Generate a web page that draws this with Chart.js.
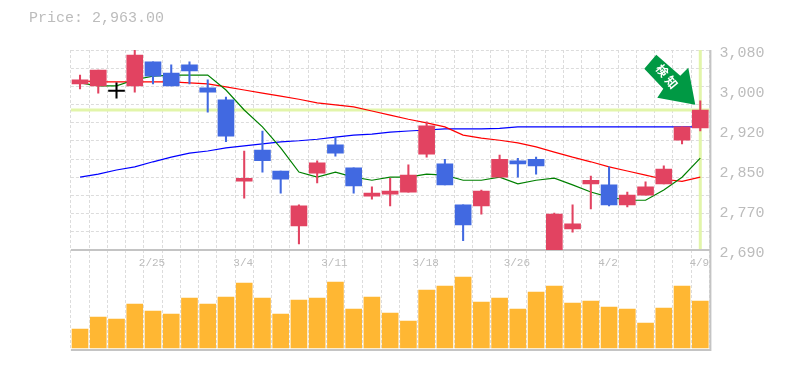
<!DOCTYPE html>
<html><head><meta charset="utf-8">
<style>html,body{margin:0;padding:0;background:#fff}
#t{position:absolute;left:29px;top:10px;font:15px "Liberation Mono",monospace;color:#bcbcbc;white-space:pre}
canvas{display:block}</style>
<script src="https://cdn.jsdelivr.net/npm/chart.js@4"></script></head>
<body><div id="t">Price: 2,963.00</div><canvas id="c" width="785" height="370"></canvas>
<script>
const dates=['2/19','2/20','2/21','2/22','2/25','2/26','2/27','2/28','3/1','3/4','3/5','3/6','3/7','3/8','3/11','3/12','3/13','3/14','3/15','3/18','3/19','3/20','3/22','3/25','3/26','3/27','3/28','3/29','4/1','4/2','4/3','4/4','4/5','4/8','4/9'];
const shownDates=['2/25','3/4','3/11','3/18','3/26','4/2','4/9'];
const open=[3014,3010,2999,3010,3057,3035,3051,3006,2983,2824,2885,2844,2737,2840,2895,2850,2795,2799,2803,2877,2858,2778,2776,2832,2864,2867,2686,2731,2819,2817,2778,2797,2819,2904,2928];
const close=[3022,3041,2999,3070,3029,3010,3039,2998,2912,2830,2864,2828,2776,2860,2879,2815,2801,2805,2836,2932,2817,2739,2805,2867,2858,2854,2760,2741,2826,2778,2797,2813,2848,2930,2963];
const high=[3031,3041,3016,3080,3057,3051,3057,3022,2988,2883,2922,2844,2778,2864,2910,2850,2813,2830,2856,2940,2867,2778,2807,2875,2869,2871,2762,2778,2834,2852,2803,2823,2854,2930,2981];
const low=[3004,2996,2986,2998,3014,3010,3014,2959,2901,2791,2842,2801,2702,2821,2873,2801,2789,2776,2803,2871,2817,2708,2760,2832,2832,2838,2686,2725,2770,2776,2774,2797,2819,2897,2922];
const maShort=[3016,3010,3010,3022,3029,3031,3031,3031,3002,2963,2930,2889,2842,2832,2842,2832,2826,2832,2832,2838,2836,2826,2826,2832,2819,2826,2830,2817,2803,2793,2787,2787,2807,2832,2869];
const maMid=[3020,3018,3018,3018,3018,3018,3016,3014,3008,3002,2996,2990,2984,2977,2973,2969,2961,2953,2945,2938,2930,2914,2908,2904,2899,2891,2881,2871,2862,2852,2844,2836,2828,2824,2832];
const maLong=[2832,2838,2846,2852,2862,2871,2879,2883,2889,2893,2897,2901,2903,2906,2910,2914,2916,2920,2922,2924,2926,2926,2926,2927,2930,2930,2930,2930,2930,2930,2930,2930,2930,2930,2930];
const volume=[570,930,870,1320,1110,1020,1500,1320,1530,1950,1500,1020,1440,1500,1980,1170,1530,1050,810,1740,1860,2130,1380,1500,1170,1680,1860,1350,1410,1230,1170,750,1200,1860,1410];
const priceLabelTicks=[3080,3002,2924,2846,2768,2690];
const priceLabels=['3,080','3,000','2,920','2,850','2,770','2,690'];
const priceGridTicks=[3080,3044.5,3009,2973.6,2938.2,2902.7,2867.3,2831.8,2796.4,2760.9,2725.5,2690];
const lastPrice=2963;
const signalText='検知';

const RED='#e24361',BLUE='#4169e1',GRID='#dcdcdc',AXIS='#c4c4c4',HL='#e2f5aa',TXT='#bcbcbc';
const colors=open.map((o,i)=>close[i]>o?RED:close[i]<o?BLUE:'#000');

const marks={id:'marks',
 beforeDatasetsDraw(ch){
  const {ctx,chartArea:a,scales:{x,y}}=ch;ctx.save();
  ctx.strokeStyle=AXIS;ctx.lineWidth=2;ctx.beginPath();
  const mid=y.getPixelForValue(2690);
  ctx.moveTo(a.left,mid);ctx.lineTo(a.right+1,mid);
  ctx.moveTo(a.left,a.bottom);ctx.lineTo(a.right+1,a.bottom);
  ctx.moveTo(a.right+1,a.top);ctx.lineTo(a.right+1,a.bottom+1);ctx.stroke();
  ctx.strokeStyle=HL;ctx.lineWidth=3;ctx.beginPath();
  const py=y.getPixelForValue(lastPrice),px=x.getPixelForValue(dates.length-1);
  ctx.moveTo(a.left,py);ctx.lineTo(a.right,py);
  ctx.moveTo(px,a.top);ctx.lineTo(px,mid-1);ctx.stroke();ctx.restore();
 },
 afterDraw(ch){
  const {ctx,scales:{x,y}}=ch;ctx.save();
  const tx=x.getPixelForValue(dates.length-1)-5,ty=y.getPixelForValue(high[dates.length-1])+4;
  ctx.translate(tx,ty);ctx.fillStyle='#009944';ctx.beginPath();
  [[0,0],[-38,-7],[-32,-16],[-51,-36],[-39,-50],[-15,-29],[-7,-37]].forEach((p,i)=>i?ctx.lineTo(p[0],p[1]):ctx.moveTo(p[0],p[1]));
  ctx.closePath();ctx.fill();
  ctx.translate(-28,-28);ctx.rotate(51*Math.PI/180);ctx.fillStyle='#fff';ctx.font='bold 12px "Noto Sans CJK JP"';ctx.letterSpacing='3px';ctx.textAlign='center';ctx.textBaseline='middle';
  ctx.fillText(signalText,1,0);ctx.restore();
 }};

const common={grouped:false,categoryPercentage:1,barPercentage:1};
new Chart(document.getElementById('c'),{
 data:{labels:dates,datasets:[
  {type:'bar',label:'Wick',data:high.map((h,i)=>[low[i],h]),backgroundColor:colors,barThickness:1.4,order:2,yAxisID:'y',...common},
  {type:'bar',label:'Body',data:open.map((o,i)=>[o,close[i]]),backgroundColor:colors,barThickness:16,minBarLength:1.4,order:1,yAxisID:'y',...common},
  {type:'line',label:'MA short',data:maShort,borderColor:'#008000',borderWidth:1.2,pointRadius:0,tension:0,order:3,yAxisID:'y'},
  {type:'line',label:'MA mid',data:maMid,borderColor:'#ff0000',borderWidth:1.2,pointRadius:0,tension:0,order:4,yAxisID:'y'},
  {type:'line',label:'MA long',data:maLong,borderColor:'#0000ff',borderWidth:1.2,pointRadius:0,tension:0,order:5,yAxisID:'y'},
  {type:'bar',label:'Volume',data:volume,backgroundColor:'#ffb733',barThickness:16,order:6,yAxisID:'yv',...common}
 ]},
 plugins:[marks],
 options:{responsive:false,animation:false,
  layout:{padding:{left:70.9,top:50,bottom:20,right:0}},
  plugins:{legend:{display:false},tooltip:{enabled:false},title:{display:false}},
  scales:{
   x:{type:'category',position:{y:2690},offset:true,
    grid:{offset:true,color:GRID,lineWidth:1,drawTicks:false},border:{display:false,dash:[3,2]},
    ticks:{autoSkip:false,maxRotation:0,minRotation:0,padding:6,labelOffset:-1,color:TXT,font:{family:'"Liberation Mono"',size:11},
     callback(v){const l=dates[v];return shownDates.includes(l)?l:'';}}},
   y:{type:'linear',position:'right',stack:'s',stackWeight:2,min:2690,max:3080,
    afterBuildTicks(s){s.ticks=[...new Set([...priceGridTicks,...priceLabelTicks])].sort((a,b)=>b-a).map(value=>({value}));},
    afterFit(s){s.width=75.6;},
    grid:{color:c=>priceGridTicks.includes(c.tick.value)?GRID:'rgba(0,0,0,0)',drawTicks:false},border:{display:false,dash:[3,2]},
    ticks:{padding:10,labelOffset:3,color:TXT,autoSkip:false,font:{family:'"Liberation Mono"',size:15},
     callback(v){const i=priceLabelTicks.indexOf(v);return i<0?'':priceLabels[i];}}},
   yv:{type:'linear',position:'right',stack:'s',stackWeight:1,min:-60,max:2940,
    afterFit(s){s.width=75.6;},
    grid:{display:false},border:{display:false},ticks:{display:false}}
  }}
});
</script></body></html>
